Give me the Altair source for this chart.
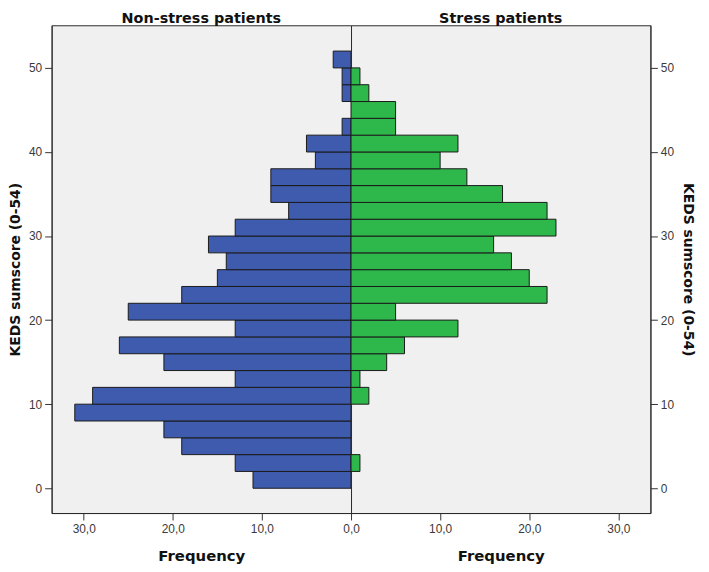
import altair as alt
import pandas as pd

# KEDS sumscore bins (lower / upper edges)
bin_lo = [0, 2, 4, 6, 8, 10, 12, 14, 16, 18, 20, 22, 24, 26, 28, 30, 32, 34, 36, 38, 40, 42, 44, 46, 48, 50]
bin_hi = [2, 4, 6, 8, 10, 12, 14, 16, 18, 20, 22, 24, 26, 28, 30, 32, 34, 36, 38, 40, 42, 44, 46, 48, 50, 52]
# Frequencies per bin
non_stress = [11, 13, 19, 21, 31, 29, 13, 21, 26, 13, 25, 19, 15, 14, 16, 13, 7, 9, 9, 4, 5, 1, 0, 1, 1, 2]
stress = [0, 1, 0, 0, 0, 2, 1, 4, 6, 12, 5, 22, 20, 18, 16, 23, 22, 17, 13, 10, 12, 5, 5, 2, 1, 0]

x_ticks_left = [0, 10, 20, 30]
x_ticks_right = [10, 20, 30]
y_ticks = [0, 10, 20, 30, 40, 50]

BLUE = "#3F5BAE"
GREEN = "#2EB84B"
EDGE = "#1a1a1a"

df = pd.DataFrame({"lo": bin_lo, "hi": bin_hi, "non": non_stress, "stress": stress, "zero": 0})

yscale = alt.Scale(domain=[-2.95, 55.07], nice=False, zero=False)
label_expr = "replace(format(datum.value, '.1f'), '.', ',')"

axis_common = dict(
    grid=False,
    labelFont="Liberation Sans",
    labelFontSize=12,
    labelColor="#3a3a3a",
    titleFont="DejaVu Sans",
    titleFontWeight="bold",
    titleColor="#111111",
    tickColor="#333333",
    tickSize=7,
    domainColor="#2b2b2b",
    labelFlush=False,
)

x_axis_style = dict(titleFontSize=15, labelPadding=4, titlePadding=14)

W, H = 302, 492

title_style = dict(font="DejaVu Sans", fontSize=14.5, fontWeight="bold", color="#111111", offset=-1)

left = (
    alt.Chart(df, title=alt.TitleParams("Non-stress patients", **title_style))
    .transform_filter("datum.non > 0")
    .mark_rect(color=BLUE, stroke=EDGE, strokeWidth=1)
    .encode(
        x=alt.X("non:Q",
                scale=alt.Scale(domain=[0, 33.6], reverse=True, nice=False),
                axis=alt.Axis(title="Frequency", values=x_ticks_left, labelExpr=label_expr,
                              **x_axis_style, **axis_common)),
        x2=alt.X2("zero:Q"),
        y=alt.Y("lo:Q", scale=yscale,
                axis=alt.Axis(title="KEDS sumscore (0-54)", values=y_ticks, labelPadding=3,
                              titlePadding=6, titleFontSize=14, **axis_common)),
        y2=alt.Y2("hi:Q"),
    )
    .properties(width=W, height=H)
)

right = (
    alt.Chart(df, title=alt.TitleParams("Stress patients", **title_style))
    .transform_filter("datum.stress > 0")
    .mark_rect(color=GREEN, stroke=EDGE, strokeWidth=1)
    .encode(
        x=alt.X("stress:Q",
                scale=alt.Scale(domain=[0, 33.6], nice=False),
                axis=alt.Axis(title="Frequency", values=x_ticks_right, labelExpr=label_expr,
                              **x_axis_style, **axis_common)),
        x2=alt.X2("zero:Q"),
        y=alt.Y("lo:Q", scale=yscale,
                axis=alt.Axis(title="KEDS sumscore (0-54)", values=y_ticks, orient="right",
                              labelPadding=3, titlePadding=7, titleAngle=90, titleFontSize=14,
                              **axis_common)),
        y2=alt.Y2("hi:Q"),
    )
    .properties(width=W, height=H)
)

chart = (
    alt.hconcat(left, right, spacing=0, bounds="flush")
    .properties(padding={"left": 0, "top": 0, "right": 6, "bottom": 0}, background="white")
    .configure_view(fill="#F0F0F0", stroke="#2b2b2b", strokeWidth=1)
)

chart.save("out.html", embed_options={"renderer": "svg", "actions": False})
